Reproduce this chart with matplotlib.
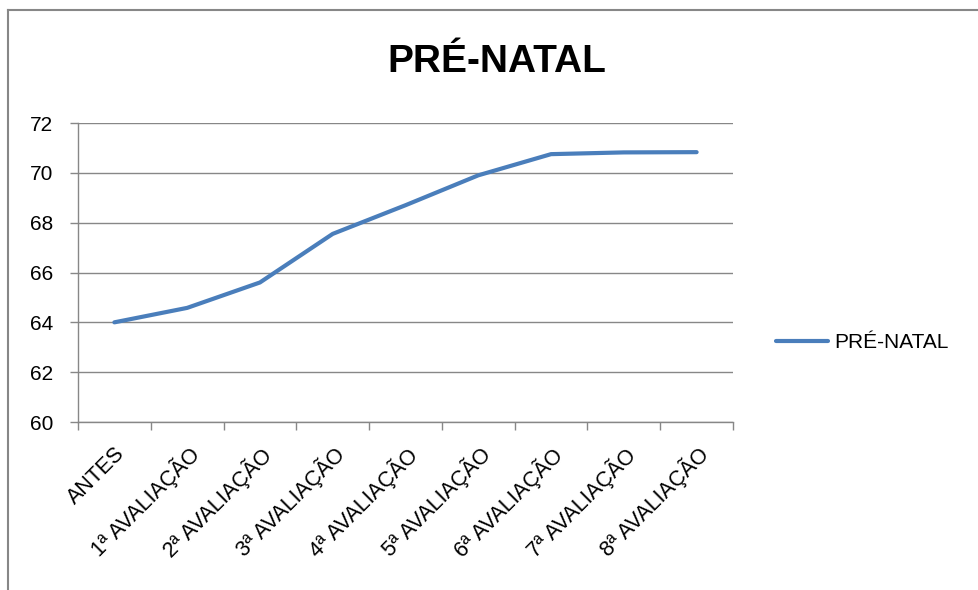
import matplotlib
matplotlib.use("Agg")
import matplotlib.pyplot as plt
from matplotlib.lines import Line2D

# dados
categorias = ["ANTES", "1ª AVALIAÇÃO", "2ª AVALIAÇÃO", "3ª AVALIAÇÃO", "4ª AVALIAÇÃO",
              "5ª AVALIAÇÃO", "6ª AVALIAÇÃO", "7ª AVALIAÇÃO", "8ª AVALIAÇÃO"]
pre_natal = [64.0, 64.58, 65.6, 67.55, 68.7, 69.9, 70.75, 70.82, 70.83]
y_ticks = [60, 62, 64, 66, 68, 70, 72]

plt.rcParams['font.family'] = ['Liberation Sans', 'DejaVu Sans']
cinza = "#878787"
azul = "#4A7EBB"

fig = plt.figure(figsize=(9.79, 5.9), dpi=100)
ax = fig.add_axes([78 / 979, 1 - 422 / 590, (733 - 78) / 979, (422 - 123) / 590])

x = list(range(len(categorias)))
ax.plot(x, pre_natal, color=azul, linewidth=3, solid_capstyle="round", label="PRÉ-NATAL")

ax.set_xlim(-0.5, len(categorias) - 0.5)
ax.set_ylim(60, 72)
ax.set_yticks(y_ticks)
ax.set_yticklabels([str(v) for v in y_ticks], fontsize=15)
ax.yaxis.grid(True, color=cinza, linewidth=1)
ax.set_axisbelow(True)

ax.set_xticks(x)
ax.set_xticklabels(categorias, fontsize=15.5, rotation=45, ha="right", rotation_mode="anchor")
ax.set_xticks([i - 0.5 for i in range(len(categorias) + 1)], minor=True)
ax.tick_params(axis="x", which="major", length=0, pad=15)
ax.tick_params(axis="x", which="minor", length=6, color=cinza, width=1)
ax.tick_params(axis="y", length=6, color=cinza, width=1, pad=12)

for s in ["top", "right"]:
    ax.spines[s].set_visible(False)
for s in ["left", "bottom"]:
    ax.spines[s].set_color(cinza)
    ax.spines[s].set_linewidth(1)

fig.text(497 / 979, 1 - 62 / 590, "PRÉ-NATAL", fontsize=28, fontweight="bold",
         ha="center", va="center")

fig.legend(loc="center left", bbox_to_anchor=(757 / 979, 1 - 343 / 590), frameon=False,
           fontsize=15, handlelength=2.5, handletextpad=0.3)

# borda da área do gráfico
fig.add_artist(Line2D([8 / 979, 1], [1 - 10 / 590] * 2, color=cinza, linewidth=1.5,
                      transform=fig.transFigure))
fig.add_artist(Line2D([8 / 979] * 2, [0, 1 - 10 / 590], color=cinza, linewidth=1.5,
                      transform=fig.transFigure))

fig.savefig("out.png", dpi=100)
